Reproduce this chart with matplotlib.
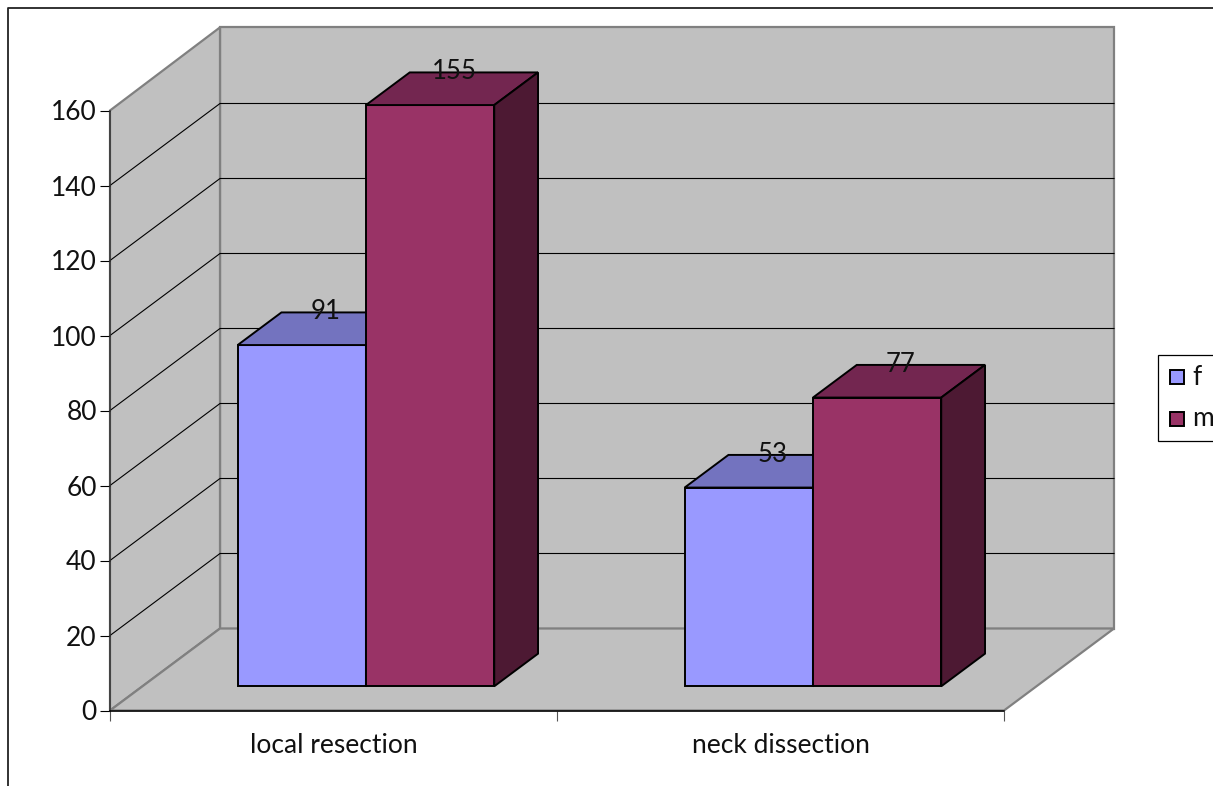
import matplotlib
matplotlib.use('Agg')
import matplotlib.pyplot as plt
from matplotlib.lines import Line2D
from matplotlib.patches import Polygon, Rectangle

categories = ['local resection', 'neck dissection']
f_values = [91, 53]
m_values = [155, 77]
y_ticks = [0, 20, 40, 60, 80, 100, 120, 140, 160]

W, H = 1213, 786
FONT = 'Lato'
TEXT = '#111111'
EDGE_LW = 1.4

# oblique offset of the back plane, in data units
DX = 110 / 447
DY = 82 / 3.75
BAR_W = 0.287
D_FRONT = 0.295
D_BACK = 0.693


def proj(x, v, d):
    return x + d * DX, v + d * DY


def face(ax, pts, color, lw=EDGE_LW, edge='black', z=2):
    ax.add_patch(Polygon(pts, closed=True, facecolor=color, edgecolor=edge,
                         linewidth=lw, joinstyle='miter', clip_on=False, zorder=z))


def bar3d(ax, left, value, front, top, side, label):
    right = left + BAR_W
    face(ax, [proj(left, 0, D_FRONT), proj(right, 0, D_FRONT),
              proj(right, value, D_FRONT), proj(left, value, D_FRONT)], front)
    face(ax, [proj(left, value, D_FRONT), proj(right, value, D_FRONT),
              proj(right, value, D_BACK), proj(left, value, D_BACK)], top)
    face(ax, [proj(right, 0, D_FRONT), proj(right, 0, D_BACK),
              proj(right, value, D_BACK), proj(right, value, D_FRONT)], side)
    lx, ly = proj(left + BAR_W / 2, value, D_BACK)
    ax.text(lx - 20 / 447, ly + 0.2, label, ha='center', va='center',
            fontsize=18.5, family=FONT, color=TEXT, zorder=3)


fig = plt.figure(figsize=(W / 100, H / 100), dpi=100, facecolor='white')
ax = fig.add_axes([110 / W, 1 - 710.5 / H, 894 / W, 600 / H])
ax.set_xlim(0, 2)
ax.set_ylim(0, 160)
ax.patch.set_visible(False)

# walls and floor
wall = '#c0c0c0'
wall_edge = '#808080'
face(ax, [proj(0, 0, 1), proj(2, 0, 1), proj(2, 160.3, 1), proj(0, 160.3, 1)],
     wall, lw=1.6, edge=wall_edge, z=0)
face(ax, [proj(0, 0, 0), proj(0, 0, 1), proj(0, 160.3, 1), proj(0, 160, 0)],
     wall, lw=1.6, edge=wall_edge, z=0)
face(ax, [proj(0, 0, 0), proj(2, 0, 0), proj(2, 0, 1), proj(0, 0, 1)],
     wall, lw=1.6, edge=wall_edge, z=0)

# gridlines run along the side wall and across the back
for t in y_ticks[1:-1]:
    x0, y0 = proj(0, t, 0)
    x1, y1 = proj(0, t, 1)
    x2, y2 = proj(2, t, 1)
    ax.plot([x0, x1, x2], [y0, y1, y2], color='black', lw=0.8,
            clip_on=False, zorder=1)

for i in range(len(categories)):
    bar3d(ax, i + 0.5 - BAR_W, f_values[i], '#9999ff', '#7373bf', '#4d4d80', str(f_values[i]))
    bar3d(ax, i + 0.5, m_values[i], '#993366', '#732650', '#4d1933', str(m_values[i]))

# axes
for s in ['top', 'right']:
    ax.spines[s].set_visible(False)
ax.spines['left'].set_color('#333333')
ax.spines['left'].set_linewidth(1.1)
ax.spines['bottom'].set_color('black')
ax.spines['bottom'].set_linewidth(1.1)
ax.spines['left'].set_zorder(4)
ax.spines['bottom'].set_zorder(4)
ax.set_yticks(y_ticks)
ax.set_xticks([0, 1, 2])
ax.set_xticklabels([])
ax.set_xticks([0.5, 1.5], minor=True)
ax.set_xticklabels(categories, minor=True, fontsize=19, family=FONT, color=TEXT)
ax.tick_params(axis='x', which='minor', length=0, pad=16)
ax.tick_params(axis='x', which='major', length=7.5, width=0.8, color='#555555')
ax.tick_params(axis='y', length=7.5, width=0.8, pad=2, labelsize=19, labelcolor=TEXT)
for lab in ax.get_yticklabels():
    lab.set_family(FONT)

# outer chart frame, open on the cut-off sides
fx = lambda px: px / W
fy = lambda py: 1 - py / H
fig.add_artist(Line2D([fx(8), fx(8), fx(W + 5)], [fy(H + 5), fy(8), fy(8)],
                      color='#222222', lw=1.3))

# legend box runs off the right side
fig.add_artist(Rectangle((fx(1157.5), fy(441)), 100 / W, 86 / H, transform=fig.transFigure,
                         facecolor='white', edgecolor='black', lw=0.9))
for py, col, name in [(376.5, '#9999ff', 'f'), (418.5, '#993366', 'm')]:
    fig.add_artist(Rectangle((fx(1169.5), fy(py + 7)), 14 / W, 14 / H, transform=fig.transFigure,
                             facecolor=col, edgecolor='black', lw=1.4))
    fig.text(fx(1192), fy(py + 0.5), name, ha='left', va='center', fontsize=19,
             family=FONT, color=TEXT)

fig.savefig('out.png', dpi=100)
